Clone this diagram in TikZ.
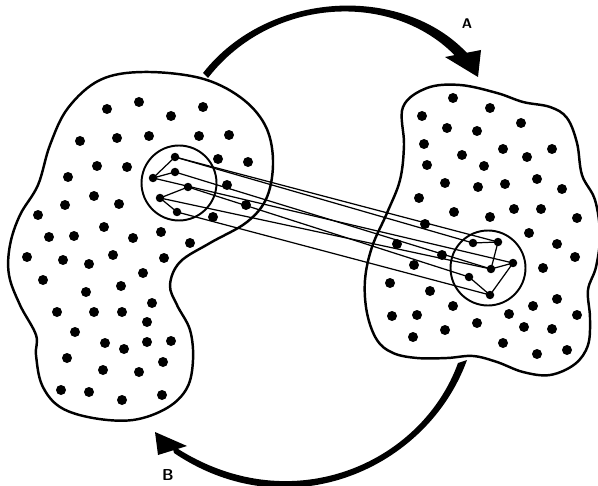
\documentclass[tikz,border=0pt]{standalone}
\usepackage{tikz}
\usetikzlibrary{arrows.meta, positioning}

\begin{document}
\begin{tikzpicture}[
    x=0.02cm, y=-0.02cm,
    blob/.style={
        draw,
        line width=1.4pt,
        line join=round
    },
    dot/.style={
        circle,
        fill=black,
        inner sep=0pt,
        minimum size=0.17cm
    },
    spot/.style={
        circle,
        draw,
        line width=1.1pt,
        minimum size=1.5cm
    },
    link/.style={
        line width=0.7pt
    },
    sweep/.style={
        fill=black
    },
    tag/.style={
        font=\sffamily\bfseries\footnotesize,
        inner sep=0pt
    }
]
\useasboundingbox (0,0) rectangle (598,486);

% Linke Menge
\draw[blob] plot[smooth cycle, tension=0.6] coordinates {
    (100,80) (143,72) (200,78) (240,97) (265,125) (273,160) (267,197)
    (247,222) (210,243) (180,262) (170,285) (177,305) (190,330) (193,360)
    (187,388) (167,408) (133,420) (93,418) (60,407) (42,385) (36,355)
    (36,335) (20,305) (9,275) (10,245) (20,215) (38,185) (50,145) (68,108)};

% Rechte Menge
\draw[blob] plot[smooth cycle, tension=0.6] coordinates {
    (403,107) (427,88) (460,85) (497,93) (523,102) (550,107) (567,118)
    (577,143) (582,175) (595,200) (600,235) (596,267) (588,290) (590,318)
    (588,345) (575,364) (550,375) (523,372) (497,362) (473,356) (447,358)
    (417,358) (393,353) (377,340) (367,313) (365,280) (372,247) (387,213)
    (400,180) (404,145)};

% Punkte links
\foreach \p in {(107,109),(139,102),(171,116),(203,107),
    (80,141),(117,138),(149,136),(199,136),(229,135),
    (97,166),(127,167),(218,159),(248,162),
    (68,177),(94,196),(119,204),(227,185),
    (65,205),(38,215),(104,227),(133,238),(161,232),(190,243),(246,205),(213,217),
    (49,237),(74,236),
    (27,257),(63,260),(89,264),(113,255),(164,258),
    (43,280),(143,273),(86,292),(121,286),
    (57,312),(94,312),(122,312),(152,303),
    (75,332),(147,322),
    (105,343),(124,349),(147,342),(171,341),
    (67,358),(103,370),(139,372),(163,362),
    (61,390),(89,392),(122,400),(162,395)}
    \fill \p circle[radius=0.1cm];

% Punkte rechts
\foreach \p in {(453,98),(490,108),(422,116),(447,128),(477,131),(521,123),
    (424,144),(462,155),(503,149),(527,157),(552,149),
    (427,165),(484,166),
    (445,183),(478,187),(505,184),(537,179),(562,189),
    (419,198),(454,212),(490,217),(514,209),(541,209),(577,218),
    (425,224),(529,233),(557,244),(575,257),
    (397,244),(442,255),(414,265),(543,268),
    (390,283),(430,291),(453,306),(509,314),(533,306),(557,299),(577,315),
    (392,316),(417,315),(477,323),(524,327),(552,329),
    (413,337),(445,330),(503,343),(537,354),(567,350)}
    \fill \p circle[radius=0.1cm];

% Kreise
\node[spot] (lkreis) at (179,183) {};
\node[spot] (rkreis) at (488,268) {};

% Punkte in den Kreisen
\node[dot] (a) at (175,157) {};
\node[dot] (b) at (175,172) {};
\node[dot] (c) at (153,178) {};
\node[dot] (d) at (188,187) {};
\node[dot] (e) at (160,198) {};
\node[dot] (f) at (177,212) {};

\node[dot] (g) at (473,243) {};
\node[dot] (h) at (498,242) {};
\node[dot] (i) at (513,263) {};
\node[dot] (j) at (491,269) {};
\node[dot] (k) at (469,277) {};
\node[dot] (l) at (490,295) {};

% Verbindungen innen
\draw[link] (c.center) -- (a.center);
\draw[link] (c.center) -- (b.center);
\draw[link] (e.center) -- (d.center);
\draw[link] (e.center) -- (f.center);
\draw[link] (g.center) -- (h.center);
\draw[link] (h.center) -- (j.center);
\draw[link] (j.center) -- (i.center);
\draw[link] (i.center) -- (l.center);
\draw[link] (l.center) -- (k.center);

% Verbindungen zwischen den Kreisen
\draw[link] (a.center) -- (h.center);
\draw[link] (a.center) -- (g.center);
\draw[link] (b.center) -- (j.center);
\draw[link] (c.center) -- (i.center);
\draw[link] (d.center) -- (k.center);
\draw[link] (e.center) -- (j.center);
\draw[link] (f.center) -- (l.center);

% Pfeil A
\coordinate (astart) at (205,75);
\coordinate (aend) at (478,77);
\fill[sweep] (203,73) .. controls (268,-10) and (402,-16) .. (467,53)
    -- (460,61) .. controls (398,-10) and (272,-5) .. (208,78) -- cycle;
\fill[sweep] (445,57) -- (481,50) -- (aend) -- cycle;
\node[tag] (alabel) at (467,24) {A};

% Pfeil B
\coordinate (bstart) at (462,362);
\coordinate (bend) at (155,432);
\fill[sweep] (467,360) .. controls (428,468) and (290,531) .. (174,453)
    -- (172,445) .. controls (288,523) and (421,465) .. (458,363) -- cycle;
\fill[sweep] (bend) -- (158,455) -- (187,446) -- cycle;
\node[tag, font=\sffamily\bfseries\small] (blabel) at (168,475) {B};

\end{tikzpicture}
\end{document}
